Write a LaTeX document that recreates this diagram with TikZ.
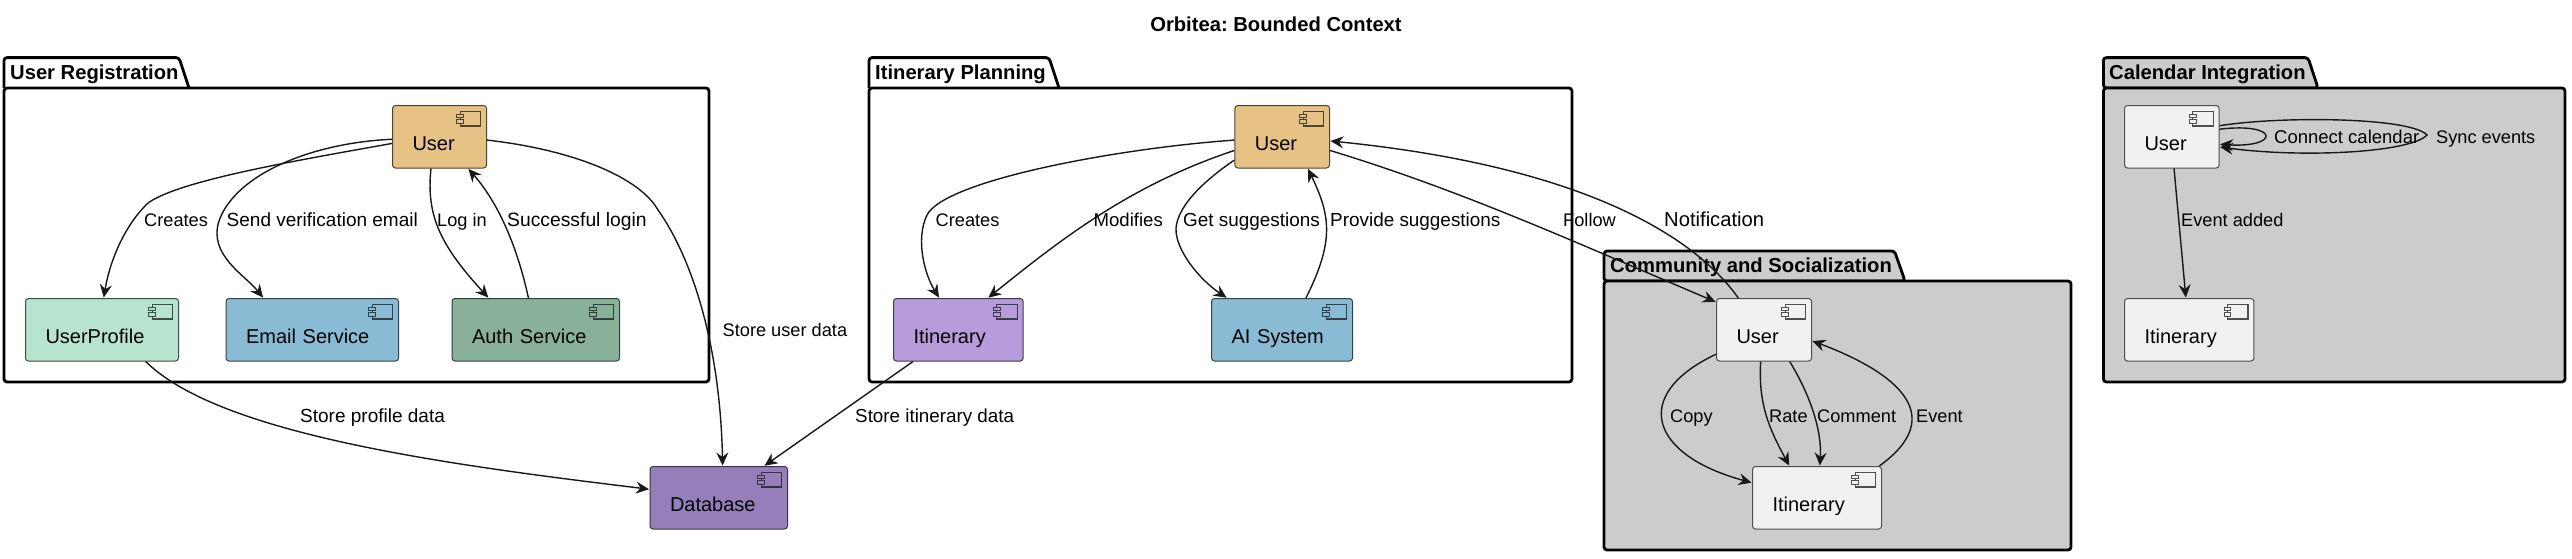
\documentclass[tikz,border=0pt]{standalone}
\usepackage{fontspec}
\setmainfont{Liberation Sans}
\frenchspacing
\usetikzlibrary{arrows.meta}
\definecolor{ink}{HTML}{181818}
\definecolor{pkggrey}{HTML}{CCCCCC}
\definecolor{boxgrey}{HTML}{F1F1F1}
\definecolor{usertan}{HTML}{E6C384}
\definecolor{mint}{HTML}{B7E4CF}
\definecolor{skyblue}{HTML}{8ABBD4}
\definecolor{sage}{HTML}{89B19A}
\definecolor{dbpurple}{HTML}{967EBB}
\definecolor{lavender}{HTML}{B79BDA}
\tikzset{
  comp/.style 2 args={draw=ink!75!#2,line width=1pt,fill=#2,rounded corners=3pt,anchor=north west,
    minimum height=62.5pt,inner xsep=20pt,inner ysep=0pt,text height=27.5pt,text depth=0pt,
    text width={#1pt-40pt},align=left,font=\fontsize{20}{24}\selectfont,
    path picture={
      \draw[ink!75!#2,line width=1.2pt,sharp corners]
        ([xshift=-26.4pt,yshift=-6pt]path picture bounding box.north east) rectangle
        ([xshift=-6pt,yshift=-20.4pt]path picture bounding box.north east);
      \draw[ink!75!#2,fill=#2,line width=1pt,sharp corners]
        ([xshift=-29.7pt,yshift=-9pt]path picture bounding box.north east) rectangle
        ([xshift=-23pt,yshift=-12.4pt]path picture bounding box.north east);
      \draw[ink!75!#2,fill=#2,line width=1pt,sharp corners]
        ([xshift=-29.7pt,yshift=-14.4pt]path picture bounding box.north east) rectangle
        ([xshift=-23pt,yshift=-17.8pt]path picture bounding box.north east);
    }},
  pkgbox/.style={draw=black,line width=2.8pt,rounded corners=3pt},
  pkgtitle/.style={anchor=base west,inner sep=0pt,font=\fontsize{20.2}{24}\selectfont\bfseries},
  edgelabel/.style={anchor=base west,inner sep=0pt,text=black,font=\fontsize{#1}{22}\selectfont},
  edgelabel/.default=18.2,
  conn/.style={draw=ink,line width=1.4pt,shorten >=0.5pt,-{Stealth[length=13pt,width=12pt,inset=4.5pt,line width=0.8pt]}}
}
\begin{document}
\begin{tikzpicture}[x=1pt,y=-1pt]
  \useasboundingbox (0,0) rectangle (2572,558);
  \node (title) [anchor=base,inner sep=0pt,font=\fontsize{20.2}{24}\selectfont\bfseries] at (1276,31.3) {Orbitea: Bounded Context};
  % packages
  \draw[pkgbox] (4,88) -- (4,57.6) -- (179,57.6) -- (189,88);
  \draw[pkgbox] (4,88) rectangle (709,382);
  \node (pkgreg) [pkgtitle] at (10,79.7) {User Registration};
  \draw[pkgbox] (869,88) -- (869,57.6) -- (1049,57.6) -- (1059,88);
  \draw[pkgbox] (869,88) rectangle (1572,382);
  \node (pkgplan) [pkgtitle] at (875,79.7) {Itinerary Planning};
  \draw[pkgbox,fill=pkggrey] (1604,281) -- (1604,251) -- (1894.5,251) -- (1905,281) -- cycle;
  \draw[pkgbox,fill=pkggrey] (1604,281) rectangle (2071,550);
  \node (pkgcom) [pkgtitle] at (1610,272.6) {Community and Socialization};
  \draw[pkgbox,fill=pkggrey] (2103.4,88) -- (2103.4,57.6) -- (2308,57.6) -- (2318,88) -- cycle;
  \draw[pkgbox,fill=pkggrey] (2103.4,88) rectangle (2565,382);
  \node (pkgcal) [pkgtitle] at (2109,79.7) {Calendar Integration};
  % components
  \node (userA) [comp={94}{usertan}] at (392,105) {User};
  \node (profile) [comp={153}{mint}] at (25,298) {UserProfile};
  \node (email) [comp={172.5}{skyblue}] at (225.5,298) {Email Service};
  \node (auth) [comp={167.5}{sage}] at (451.5,298) {Auth Service};
  \node (database) [comp={137.5}{dbpurple}] at (649.5,466) {Database};
  \node (userB) [comp={94.6}{usertan}] at (1234.4,105) {User};
  \node (itinB) [comp={129.7}{lavender}] at (893,298) {Itinerary};
  \node (aisys) [comp={141}{skyblue}] at (1211,298) {AI System};
  \node (userC) [comp={95}{boxgrey}] at (1716,298) {User};
  \node (itinC) [comp={129}{boxgrey}] at (1752,466) {Itinerary};
  \node (userD) [comp={94.6}{boxgrey}] at (2124,105) {User};
  \node (itinD) [comp={129.4}{boxgrey}] at (2124,298) {Itinerary};
  % user registration
  \draw[conn] (userA.188) .. controls (300,160) and (180,180) .. (148,203)
    .. controls (125,225) and (110,260) .. (profile.87);
  \draw[conn] (userA.183) .. controls (310,143) and (235,175) .. (219,221)
    .. controls (208,255) and (245,275) .. (email.147);
  \draw[conn] (userA.255) .. controls (426,215) and (440,245) .. (auth.146);
  \draw[conn] (auth.103) .. controls (518,250) and (500,205) .. (userA.312);
  \draw[conn] (userA.356) .. controls (575,150) and (640,178) .. (658,210)
    .. controls (690,255) and (720,340) .. (database.83);
  \draw[conn] (profile.324) .. controls (220,435) and (450,465) .. (database.173);
  \draw[conn] (itinB.215) -- (database.35);
  % itinerary planning
  \draw[conn] (userB.184) .. controls (1120,148) and (945,180) .. (927,215)
    .. controls (915,240) and (925,275) .. (itinB.121);
  \draw[conn] (userB.196) .. controls (1130,185) and (1060,240) .. (itinB.47);
  \draw[conn] (userB.206) .. controls (1205,180) and (1178,205) .. (1176,228)
    .. controls (1175,250) and (1200,280) .. (aisys.150);
  \draw[conn] (aisys.53) .. controls (1335,240) and (1330,215) .. (userB.309);
  % follow / notification
  \draw[conn] (userB.344) .. controls (1460,190) and (1570,240) .. (userC.150);
  \draw[conn] (userC.129) .. controls (1690,230) and (1570,165) .. (userB.355);
  % community
  \draw[conn] (userC.207) .. controls (1630,395) and (1650,455) .. (itinC.167);
  \draw[conn] (userC.264) .. controls (1758,405) and (1770,430) .. (itinC.131);
  \draw[conn] (userC.309) .. controls (1810,395) and (1822,430) .. (itinC.85);
  \draw[conn] (itinC.27) .. controls (1950,415) and (1895,372) .. (userC.347);
  % calendar
  \draw[conn] (userD.9) .. controls (2280,122) and (2280,148) .. (userD.351);
  \draw[conn] (userD.13) .. controls (2280,116) and (2410,117) .. (2427,135)
    .. controls (2410,153) and (2300,158) .. (userD.348);
  \draw[conn] (userD.274) -- (itinD.96);
  % labels
  \node (lcreA) [edgelabel] at (144,226) {Creates};
  \node (lsend) [edgelabel=19] at (226.5,226) {Send verification email};
  \node (llog) [edgelabel] at (437,226) {Log in};
  \node (lsucc) [edgelabel=19.3] at (507,226) {Successful login};
  \node (lstu) [edgelabel] at (722.5,336.3) {Store user data};
  \node (lstp) [edgelabel=19] at (300,422.4) {Store profile data};
  \node (lsti) [edgelabel=18.8] at (855,422.4) {Store itinerary data};
  \node (lcreB) [edgelabel] at (935.5,226) {Creates};
  \node (lmod) [edgelabel=18.6] at (1093.4,226) {Modifies};
  \node (lget) [edgelabel=18.9] at (1183,226) {Get suggestions};
  \node (lprov) [edgelabel=18.9] at (1330,226) {Provide suggestions};
  \node (lfol) [edgelabel] at (1563,226) {Follow};
  \node (lnot) [edgelabel=20.2] at (1664,226) {Notification};
  \node (lcopy) [edgelabel] at (1670,422.4) {Copy};
  \node (lrate) [edgelabel] at (1769,422.4) {Rate};
  \node (lcom) [edgelabel] at (1817,422.4) {Comment};
  \node (levt) [edgelabel] at (1916,422.4) {Event};
  \node (lconn) [edgelabel=18.5] at (2274,143.4) {Connect calendar};
  \node (lsync) [edgelabel] at (2436,143.4) {Sync events};
  \node (ladd) [edgelabel] at (2181,226) {Event added};
\end{tikzpicture}
\end{document}
